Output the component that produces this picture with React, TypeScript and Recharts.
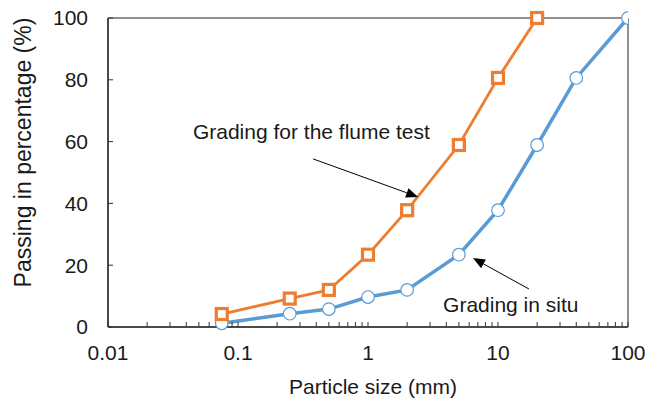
import React from 'react';
import { LineChart, Line, XAxis, YAxis, ReferenceLine, ReferenceDot, ReferenceArea } from 'recharts';

// Particle sizes (mm) and passing percentages
const flumeSize = [0.075, 0.25, 0.5, 1, 2, 5, 10, 20];
const flumePassing = [4.2, 9.2, 12, 23.4, 37.8, 58.9, 80.6, 100];
const situSize = [0.075, 0.25, 0.5, 1, 2, 5, 10, 20, 40, 100];
const situPassing = [1.2, 4.3, 5.8, 9.7, 12, 23.4, 37.8, 58.9, 80.6, 100];

const xMajorTicks = [0.01, 0.1, 1, 10, 100];
const xMinorMultipliers = [2, 3, 4, 5, 6, 7, 8, 9];
const yTicks = [0, 20, 40, 60, 80, 100];

const xTitle = 'Particle size (mm)';
const yTitle = 'Passing in percentage (%)';
const flumeLabel = { text: 'Grading for the flume test', x: 0.045, y: 60.8 };
const flumeArrow = [{ x: 0.378, y: 54.4 }, { x: 2.43, y: 42.1 }];
const situLabel = { text: 'Grading in situ', x: 3.78, y: 4.9 };
const situArrow = [{ x: 17.3, y: 12.3 }, { x: 6.42, y: 22.3 }];

const flumeData = flumeSize.map((x, i) => ({ x, y: flumePassing[i] }));
const situData = situSize.map((x, i) => ({ x, y: situPassing[i] }));
const xTicks = [
  ...xMajorTicks,
  ...xMajorTicks.slice(0, -1).flatMap((d) => xMinorMultipliers.map((m) => +(d * m).toPrecision(3))),
].sort((a, b) => a - b);

const FONT = '"Liberation Sans", Arial, Helvetica, sans-serif';
const TEXT = '#1a1a1a';
const ORANGE = '#ED7D31';
const BLUE = '#5B9BD5';

const isMajor = (v: number) => Math.abs(Math.log10(v) - Math.round(Math.log10(v))) < 1e-6;

const arrowShape = (props: any) => {
  const { x1, y1, x2, y2 } = props;
  if ([x1, y1, x2, y2].some((v) => typeof v !== 'number' || isNaN(v))) return <g />;
  const ang = Math.atan2(y2 - y1, x2 - x1);
  const len = 12;
  const half = 5;
  const bx = x2 - len * Math.cos(ang);
  const by = y2 - len * Math.sin(ang);
  const px = -Math.sin(ang) * half;
  const py = Math.cos(ang) * half;
  return (
    <g>
      <line x1={x1} y1={y1} x2={bx} y2={by} stroke="#000" strokeWidth={1} />
      <polygon points={`${x2},${y2} ${bx + px},${by + py} ${bx - px},${by - py}`} fill="#000" />
    </g>
  );
};

const textShape = (text: string) => (props: any) => (
  <text x={props.cx} y={props.cy} fill={TEXT} fontSize={21} fontFamily={FONT} textAnchor="start">
    {text}
  </text>
);

const squareDot = (p: any) => (
  <rect key={`sq-${p.index}`} x={p.cx - 5.5} y={p.cy - 5.5} width={11} height={11} fill="#fff" stroke={ORANGE} strokeWidth={3.2} />
);
const circleDot = (p: any) => (
  <circle key={`ci-${p.index}`} cx={p.cx} cy={p.cy} r={6.3} fill="#fff" stroke={BLUE} strokeWidth={1.2} />
);

export default function App() {
  return (
    <div style={{ position: 'absolute', left: 0, top: 0, background: '#fff' }}>
      <LineChart width={657} height={402} margin={{ top: 18, right: 29, left: 0, bottom: 0 }}>
        <ReferenceArea x1={0.01} x2={100} y1={0} y2={100} fill="none" stroke="#222" strokeWidth={1} ifOverflow="visible" />
        <XAxis
          type="number"
          dataKey="x"
          scale="log"
          domain={[0.01, 100]}
          allowDataOverflow
          ticks={xTicks}
          interval={0}
          height={75}
          tickSize={-5}
          tickMargin={23}
          tickFormatter={(v: number) => (isMajor(v) ? String(v) : '')}
          tick={{ fill: TEXT, fontSize: 21, fontFamily: FONT }}
          axisLine={{ stroke: '#333', strokeWidth: 1.5 }}
          tickLine={{ stroke: '#333', strokeWidth: 1 }}
          label={{
            content: (p: any) => {
              const vb = p.viewBox || {};
              return (
                <text x={vb.x + vb.width / 2 + 5} y={vb.y + 67} textAnchor="middle" fill={TEXT} fontSize={21} fontFamily={FONT}>
                  {xTitle}
                </text>
              );
            },
          }}
        />
        <YAxis
          type="number"
          domain={[0, 100]}
          ticks={yTicks}
          interval={0}
          width={108}
          tickSize={-5}
          tickMargin={25}
          tick={{ fill: TEXT, fontSize: 21, fontFamily: FONT }}
          axisLine={{ stroke: '#333', strokeWidth: 1.5 }}
          tickLine={{ stroke: '#333', strokeWidth: 1 }}
          label={{
            content: (p: any) => {
              const vb = p.viewBox || {};
              const cx = vb.x + 31;
              const cy = vb.y + vb.height / 2 - 20;
              return (
                <text x={cx} y={cy} transform={`rotate(-90 ${cx} ${cy})`} textAnchor="middle" fill={TEXT} fontSize={23} fontFamily={FONT}>
                  {yTitle}
                </text>
              );
            },
          }}
        />
        <Line data={situData} dataKey="y" type="linear" stroke={BLUE} strokeWidth={3.5} dot={circleDot} activeDot={false} isAnimationActive={false} />
        <Line data={flumeData} dataKey="y" type="linear" stroke={ORANGE} strokeWidth={2.8} dot={squareDot} activeDot={false} isAnimationActive={false} />
        <ReferenceLine segment={flumeArrow} ifOverflow="visible" shape={arrowShape} />
        <ReferenceLine segment={situArrow} ifOverflow="visible" shape={arrowShape} />
        <ReferenceDot x={flumeLabel.x} y={flumeLabel.y} r={0} ifOverflow="visible" shape={textShape(flumeLabel.text)} />
        <ReferenceDot x={situLabel.x} y={situLabel.y} r={0} ifOverflow="visible" shape={textShape(situLabel.text)} />
      </LineChart>
    </div>
  );
}
